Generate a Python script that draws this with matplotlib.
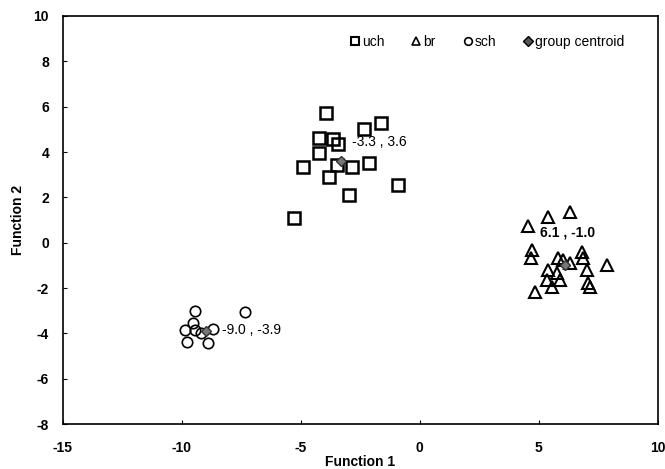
import matplotlib
matplotlib.use("Agg")
import matplotlib.pyplot as plt
from matplotlib.lines import Line2D

plt.rcParams['font.family'] = ['Liberation Sans Narrow', 'Liberation Sans', 'DejaVu Sans']
plt.rcParams['axes.unicode_minus'] = False

uch_x = [-3.95, -2.35, -1.64, -4.24, -3.66, -3.45, -4.24, -4.92, -3.49, -2.86, -2.14, -3.82, -0.92, -2.98, -5.29]
uch_y = [5.72, 5.02, 5.28, 4.62, 4.57, 4.35, 3.96, 3.34, 3.43, 3.34, 3.52, 2.90, 2.55, 2.10, 1.09]

br_x = [4.54, 5.38, 6.30, 4.71, 4.66, 5.80, 6.01, 6.30, 6.81, 6.85, 7.86, 5.38, 5.76, 7.02, 5.34, 5.88, 7.06, 7.14, 5.55, 4.83]
br_y = [0.74, 1.13, 1.35, -0.32, -0.67, -0.67, -0.76, -0.90, -0.41, -0.67, -0.98, -1.20, -1.34, -1.20, -1.65, -1.65, -1.78, -1.95, -1.95, -2.17]

sch_x = [-9.45, -9.54, -9.87, -9.45, -8.70, -9.79, -8.91, -7.35, -9.2]
sch_y = [-3.00, -3.54, -3.85, -3.85, -3.81, -4.38, -4.42, -3.06, -4.0]

cent_x = [-3.3, 6.1, -9.0]
cent_y = [3.6, -1.0, -3.9]
cent_labels = ["-3.3 , 3.6", "6.1 , -1.0", "-9.0 , -3.9"]
label_x = [-2.86, 5.04, -8.32]
label_y = [4.44, 0.43, -3.85]
label_bold = [False, True, False]

fig = plt.figure(figsize=(6.65, 4.69), dpi=100)
ax = fig.add_axes([0.0947, 0.0959, 0.8943, 0.8700])

ax.plot(uch_x, uch_y, linestyle='none', marker='s', ms=8, mfc='none', mec='black', mew=1.8)
ax.plot(br_x, br_y, linestyle='none', marker='^', ms=9, mfc='none', mec='black', mew=1.5)
ax.plot(sch_x, sch_y, linestyle='none', marker='o', ms=7.5, mfc='none', mec='black', mew=1.2)
ax.plot(cent_x, cent_y, linestyle='none', marker='D', ms=5, mfc='#777777', mec='#333333', mew=1.0)

for lx, ly, t, b in zip(label_x, label_y, cent_labels, label_bold):
    ax.text(lx, ly, t, fontsize=10, va='center', ha='left',
            fontweight='bold' if b else 'normal', color='black')

ax.set_xlim(-15, 10)
ax.set_ylim(-8, 10)
ax.set_xticks([-15, -10, -5, 0, 5, 10])
ax.set_yticks(list(range(-8, 11, 2)))
ax.tick_params(direction='in', length=3, width=0.8, labelsize=10, pad=12)
for lab in ax.get_xticklabels() + ax.get_yticklabels():
    lab.set_fontweight('bold')
ax.tick_params(axis='y', pad=10)
for s in ax.spines.values():
    s.set_linewidth(1.2)

ax.set_xlabel("Function 1", fontsize=10, fontweight='bold', labelpad=0)
ax.set_ylabel("Function 2", fontsize=10, fontweight='bold', labelpad=6)

handles = [
    Line2D([], [], linestyle='none', marker='s', ms=6, mfc='none', mec='black', mew=1.5),
    Line2D([], [], linestyle='none', marker='^', ms=6, mfc='none', mec='black', mew=1.2),
    Line2D([], [], linestyle='none', marker='o', ms=5.5, mfc='none', mec='black', mew=1.2),
    Line2D([], [], linestyle='none', marker='D', ms=5, mfc='#555555', mec='black', mew=1.0),
]
ax.legend(handles, ["uch", "br", "sch", "group centroid"], loc='upper right',
          bbox_to_anchor=(0.965, 0.985), ncol=4, frameon=False, fontsize=10,
          handlelength=0.6, handletextpad=0.2, columnspacing=2.0)

fig.savefig("out.png", dpi=100)
